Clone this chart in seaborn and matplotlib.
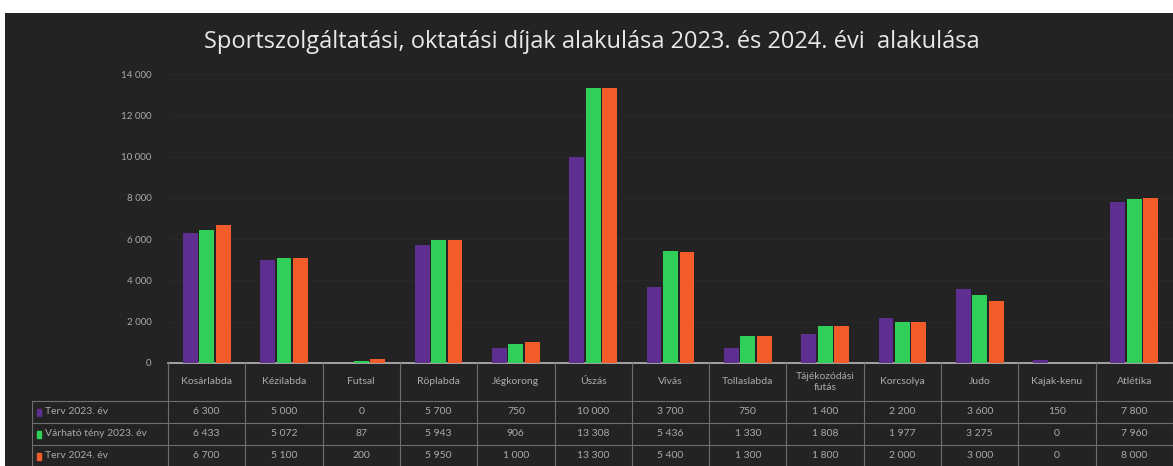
import seaborn as sns
import matplotlib.pyplot as plt
import matplotlib.patches as mpatches
import pandas as pd

# data
categories = ["Kosárlabda", "Kézilabda", "Futsal", "Röplabda", "Jégkorong", "Úszás",
              "Vívás", "Tollaslabda", "Tájékozódási\nfutás", "Korcsolya", "Judo",
              "Kajak-kenu", "Atlétika"]
series = ["Terv 2023. év", "Várható tény 2023. év", "Terv 2024. év"]
terv_2023 = [6300, 5000, 0, 5700, 750, 10000, 3700, 750, 1400, 2200, 3600, 150, 7800]
varhato_2023 = [6433, 5072, 87, 5943, 906, 13308, 5436, 1330, 1808, 1977, 3275, 0, 7960]
terv_2024 = [6700, 5100, 200, 5950, 1000, 13300, 5400, 1300, 1800, 2000, 3000, 0, 8000]
colors = ["#5e2f91", "#2fcf5a", "#f25c2a"]

rows = [terv_2023, varhato_2023, terv_2024]
df = pd.DataFrame({
    "kat": categories * 3,
    "sor": [s for s in series for _ in categories],
    "ertek": terv_2023 + varhato_2023 + terv_2024,
})

bg = "#232323"
txt = "#ababab"
fnt = "Lato"


def hu(v):
    return f"{v:,}".replace(",", " ")


fig = plt.figure(figsize=(11.73, 4.66), dpi=100)
fig.patch.set_facecolor(bg)
# white scan margins (top and left)
fig.patches.append(mpatches.Rectangle((0, 1 - 13 / 466), 1, 13 / 466, transform=fig.transFigure,
                                      facecolor="white", edgecolor="none", zorder=-1))
fig.patches.append(mpatches.Rectangle((0, 0), 5 / 1173, 1, transform=fig.transFigure,
                                      facecolor="white", edgecolor="none", zorder=-1))

ax = fig.add_axes([168 / 1173, 103 / 466, 1005 / 1173, 289 / 466])
ax.set_facecolor(bg)
sns.barplot(data=df, x="kat", y="ertek", hue="sor", palette=colors, width=0.64, gap=0.1,
            saturation=1, legend=False, ax=ax, zorder=3)
ax.set_ylim(0, 14000)
ax.set_xlim(-0.5, 12.5)
ax.set_yticks(range(0, 14001, 2000))
ax.set_yticklabels([hu(v) for v in range(0, 14001, 2000)], fontsize=7, color=txt, family=fnt)
ax.set_xticks([])
ax.set_xlabel("")
ax.set_ylabel("")
ax.tick_params(axis="y", length=0, pad=12)
ax.grid(axis="y", color="#292929", linewidth=0.6, zorder=0)
for s in ["top", "right", "left"]:
    ax.spines[s].set_visible(False)
ax.spines["bottom"].set_color("#b8b8b8")
ax.spines["bottom"].set_linewidth(1.2)

fig.text(592 / 1173, 1 - 42 / 466, "Sportszolgáltatási, oktatási díjak alakulása 2023. és 2024. évi  alakulása",
         ha="center", va="center", fontsize=17, color="#e8e8e8", family="Open Sans")

# data table under the plot
tab = fig.add_axes([32 / 1173, 0, 1141 / 1173, 103 / 466])
tab.patch.set_alpha(0)
left = -0.5 - 136 / 77.3
tab.set_xlim(left, 12.5)
tab.set_ylim(103, 0)
tab.axis("off")
lc = "#6e6e6e"
for i in range(14):
    tab.plot([i - 0.5, i - 0.5], [0, 103], color=lc, lw=0.8)
tab.plot([left, left], [38, 103], color=lc, lw=0.8)
for y in [38, 60, 82]:
    tab.plot([left, 12.5], [y, y], color=lc, lw=0.8)
for i, c in enumerate(categories):
    tab.text(i, 19, c, ha="center", va="center", fontsize=7.5, color=txt, family=fnt, linespacing=1.3)
for r, (name, vals, col) in enumerate(zip(series, rows, colors)):
    yc = 49 + 22 * r
    tab.add_patch(mpatches.Rectangle((left + 0.06, yc - 3.5), 0.06, 7, color=col))
    tab.text(left + 0.17, yc, name, ha="left", va="center", fontsize=7.5, color=txt, family=fnt)
    for i, v in enumerate(vals):
        tab.text(i, yc, hu(v), ha="center", va="center", fontsize=7.5, color=txt, family=fnt)

plt.savefig("out.png", dpi=100, facecolor=fig.get_facecolor())
plt.close()
